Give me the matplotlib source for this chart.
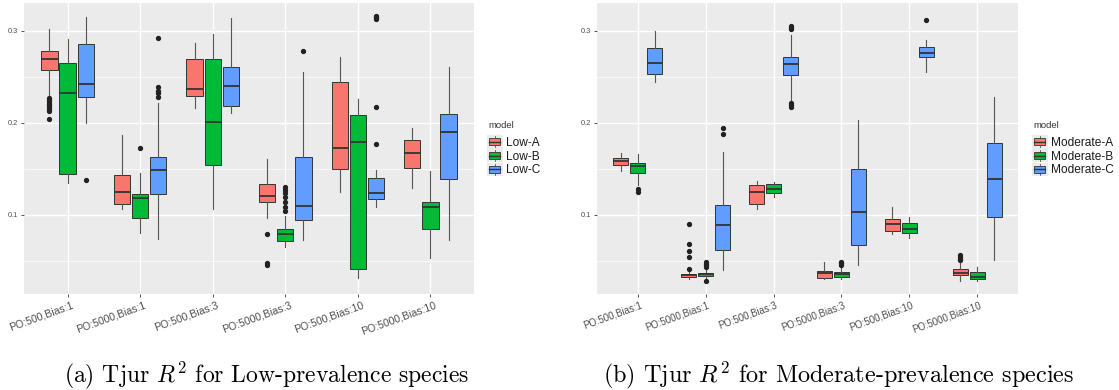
import matplotlib
matplotlib.use("Agg")
import matplotlib.pyplot as plt
from matplotlib.patches import Rectangle
from matplotlib.lines import Line2D
from matplotlib.legend_handler import HandlerBase
from matplotlib.transforms import ScaledTranslation

plt.rcParams["font.family"] = ["Liberation Sans", "DejaVu Sans"]
plt.rcParams["mathtext.fontset"] = "cm"

groups = ["PO:500,Bias:1", "PO:5000,Bias:1", "PO:500,Bias:3",
          "PO:5000,Bias:3", "PO:500,Bias:10", "PO:5000,Bias:10"]

# five-number summaries per group: (whisker low, Q1, median, Q3, whisker high)
low_a = [(0.230, 0.258, 0.270, 0.278, 0.302), (0.1065, 0.112, 0.1254, 0.1435, 0.187),
         (0.216, 0.2297, 0.237, 0.270, 0.287), (0.0964, 0.1138, 0.121, 0.1333, 0.1605),
         (0.1254, 0.1496, 0.1732, 0.2442, 0.272), (0.1297, 0.1507, 0.167, 0.1812, 0.1942)]
low_a_out = [[0.227, 0.225, 0.223, 0.221, 0.219, 0.217, 0.215, 0.213, 0.204], [], [],
             [0.079, 0.0475, 0.0460], [], []]

low_b = [(0.135, 0.145, 0.233, 0.265, 0.291), (0.080, 0.0964, 0.118, 0.1228, 0.146),
         (0.107, 0.1547, 0.2007, 0.270, 0.2967), (0.0656, 0.0721, 0.079, 0.0851, 0.099),
         (0.0312, 0.0409, 0.1797, 0.2087, 0.226), (0.0529, 0.0851, 0.1083, 0.1138, 0.1478)]
low_b_out = [[], [0.173], [], [0.130, 0.127, 0.1236, 0.120, 0.1145, 0.109, 0.1047], [], []]

low_c = [(0.200, 0.228, 0.242, 0.286, 0.3156), (0.0743, 0.1225, 0.149, 0.1634, 0.222),
         (0.211, 0.2185, 0.240, 0.2605, 0.3145), (0.0728, 0.0946, 0.1098, 0.1627, 0.2554),
         (0.109, 0.117, 0.1243, 0.1399, 0.1489), (0.0728, 0.1388, 0.1906, 0.2094, 0.2612)]
low_c_out = [[0.138], [0.292, 0.2395, 0.235, 0.233, 0.2286], [], [0.2786],
             [0.3163, 0.3150, 0.3138, 0.3125, 0.2178, 0.1772], []]

mod_a = [(0.1482, 0.154, 0.1583, 0.1616, 0.1678), (0.0308, 0.0322, 0.0344, 0.0359, 0.0384),
         (0.1065, 0.112, 0.1254, 0.1322, 0.1373), (0.030, 0.0312, 0.0366, 0.0395, 0.0493),
         (0.079, 0.0826, 0.0899, 0.0953, 0.1083), (0.0283, 0.0344, 0.0373, 0.0409, 0.0475)]
mod_a_out = [[], [0.0902, 0.0681, 0.0609, 0.0547, 0.0409], [], [], [],
             [0.0565, 0.0545, 0.0525, 0.0511]]

mod_b = [(0.1326, 0.1453, 0.1533, 0.1562, 0.166), (0.0312, 0.0337, 0.0355, 0.0373, 0.0420),
         (0.1192, 0.1236, 0.128, 0.1337, 0.1362), (0.0308, 0.033, 0.0355, 0.0384, 0.042),
         (0.0754, 0.0801, 0.0851, 0.0909, 0.0975), (0.0286, 0.030, 0.033, 0.0384, 0.0438)]
mod_b_out = [[0.128, 0.1254], [0.0486, 0.047, 0.0453, 0.044, 0.0283], [],
             [0.0493, 0.0475, 0.0457], [], []]

mod_c = [(0.245, 0.2533, 0.2649, 0.2812, 0.300), (0.0402, 0.062, 0.0895, 0.1112, 0.1688),
         (0.225, 0.2518, 0.2641, 0.272, 0.2957), (0.0457, 0.067, 0.1029, 0.1504, 0.2033),
         (0.2558, 0.2714, 0.2757, 0.2822, 0.2902), (0.0511, 0.0975, 0.1388, 0.1786, 0.2279)]
mod_c_out = [[], [0.1942, 0.1877], [0.305, 0.3035, 0.302, 0.2214, 0.2195, 0.2175], [],
             [0.312], []]

low_models = ["Low-A", "Low-B", "Low-C"]
mod_models = ["Moderate-A", "Moderate-B", "Moderate-C"]
colors = ["#F8766D", "#00BA38", "#619CFF"]

captions = [r"(a) Tjur $R^2$ for Low-prevalence species",
            r"(b) Tjur $R^2$ for Moderate-prevalence species"]

W, H = 1119, 390
fig = plt.figure(figsize=(W / 100, H / 100), dpi=100)

EDGE = "#333333"
BG = "#EBEBEB"


class BoxKeyHandler(HandlerBase):
    """Legend key drawn as a small boxplot glyph on a grey square."""

    def create_artists(self, legend, orig_handle, xdescent, ydescent,
                       width, height, fontsize, trans):
        fc = orig_handle.get_facecolor()
        x0, y0 = -xdescent, -ydescent
        bg = Rectangle((x0, y0), width, height,
                       facecolor=BG, edgecolor="none", transform=trans)
        cx = x0 + width / 2
        whisk = Line2D([cx, cx], [y0 + 0.1 * height, y0 + 0.9 * height],
                       color="#555555", lw=0.6, transform=trans)
        box = Rectangle((x0 + 0.14 * width, y0 + 0.25 * height),
                        0.72 * width, 0.5 * height, facecolor=fc,
                        edgecolor=EDGE, lw=0.6, transform=trans)
        med = Line2D([x0 + 0.14 * width, x0 + 0.86 * width],
                     [y0 + 0.5 * height] * 2, color=EDGE, lw=1.0,
                     transform=trans)
        return [bg, whisk, box, med]


def draw_panel(rect, series, outliers, labels, legend_x, label_dx, label_size):
    ax = fig.add_axes(rect)
    ax.set_facecolor(BG)
    for s in ax.spines.values():
        s.set_visible(False)
    ax.set_axisbelow(True)
    ax.set_xlim(0.4, 6.6)
    ax.set_ylim(0.01413, 0.3304)
    ax.set_yticks([0.1, 0.2, 0.3])
    ax.set_yticklabels(["0.1", "0.2", "0.3"])
    ax.set_yticks([0.05, 0.15, 0.25], minor=True)
    ax.set_xticks(range(1, 7))
    ax.set_xticklabels([])
    ax.grid(True, which="major", color="white", lw=1.0)
    ax.grid(True, which="minor", axis="y", color="white", lw=0.5)
    ax.tick_params(axis="both", which="major", length=2.5, width=0.6, color=EDGE,
                   labelcolor="#4D4D4D")
    ax.tick_params(axis="y", labelsize=5.3, pad=1.5)
    ax.tick_params(which="minor", length=0)

    # rotated category labels under each tick
    shift = ScaledTranslation(label_dx / 100, -6 / 100, fig.dpi_scale_trans)
    for i, g in enumerate(groups):
        ax.text(i + 1, 0, g, transform=ax.get_xaxis_transform() + shift,
                rotation=20, ha="right", va="top", rotation_mode="anchor",
                fontsize=label_size, color="#4D4D4D")

    offsets = [-0.25, 0.0, 0.25]
    for k, (stats_list, outs, col) in enumerate(zip(series, outliers, colors)):
        stats = []
        for (lo, q1, med, q3, hi), fl in zip(stats_list, outs):
            stats.append(dict(whislo=lo, q1=q1, med=med, q3=q3, whishi=hi, fliers=fl))
        pos = [i + 1 + offsets[k] for i in range(len(groups))]
        ax.bxp(stats, positions=pos, widths=0.225, patch_artist=True,
               showcaps=False, manage_ticks=False,
               boxprops=dict(facecolor=col, edgecolor=EDGE, lw=0.7),
               whiskerprops=dict(color="#555555", lw=0.8),
               medianprops=dict(color=EDGE, lw=1.3),
               flierprops=dict(marker="o", markersize=2.8, markerfacecolor="#222222",
                               markeredgecolor="#222222", linestyle="none"))

    fig.text((legend_x + 1) / W, 1 - 126 / H, "model", ha="left", va="center",
             fontsize=6.8, color="#333333")
    handles = [Rectangle((0, 0), 1, 1, facecolor=c) for c in colors]
    fig.legend(handles, labels, loc="upper left",
               bbox_to_anchor=(legend_x / W, 1 - 135 / H), frameon=False,
               handler_map={Rectangle: BoxKeyHandler()},
               fontsize=8.6, handlelength=1.3, handleheight=1.38,
               labelspacing=0.0, handletextpad=0.3,
               borderpad=0, borderaxespad=0, labelcolor="#1A1A1A")
    return ax


draw_panel([24 / W, 1 - 294 / H, 450 / W, 291 / H],
           [low_a, low_b, low_c], [low_a_out, low_b_out, low_c_out],
           low_models, 487, 4, 7.6)
draw_panel([597 / W, 1 - 294 / H, 421 / W, 291 / H],
           [mod_a, mod_b, mod_c], [mod_a_out, mod_b_out, mod_c_out],
           mod_models, 1032, 2, 6.9)

for cx, cap, fs in zip([267, 839], captions, [17, 17.4]):
    fig.text(cx / W, 1 - 382 / H, cap, ha="center", va="baseline",
             fontsize=fs, family="cmr10", color="black")

fig.savefig("out.png", dpi=100)
